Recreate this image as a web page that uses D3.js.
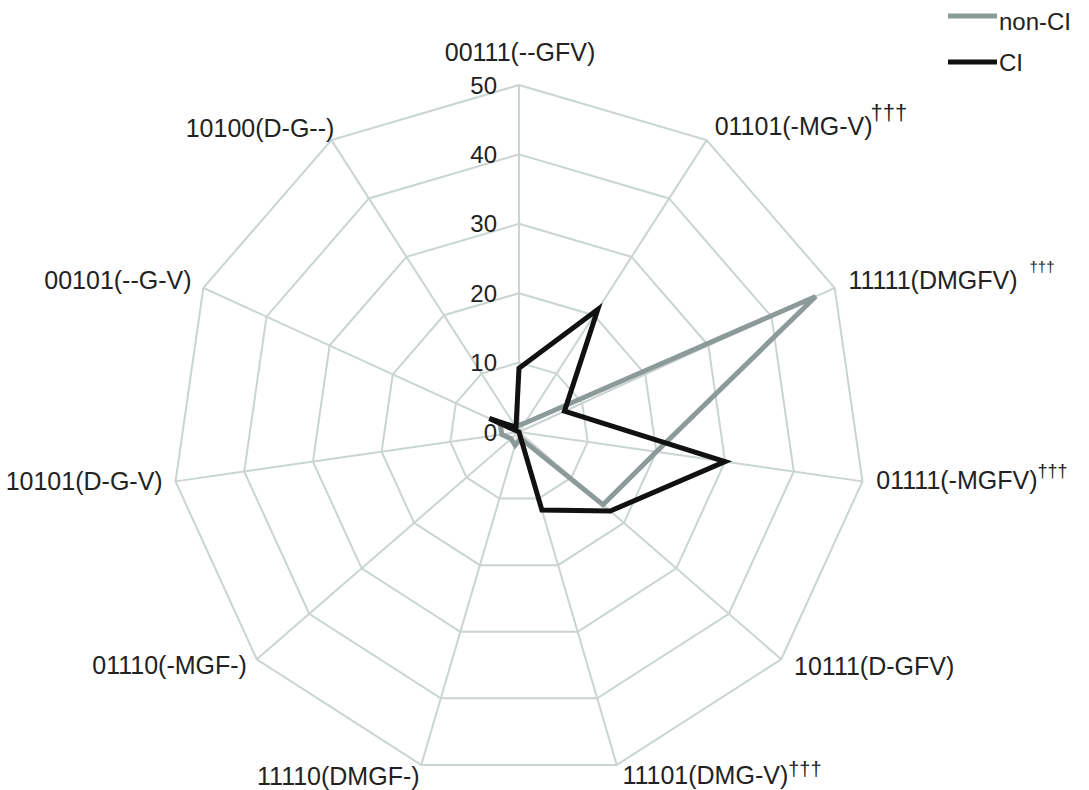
<!DOCTYPE html>
<html><head><meta charset="utf-8">
<script src="https://cdn.jsdelivr.net/npm/d3@7"></script>
<style>
html,body{margin:0;padding:0;background:#fff;}
svg{display:block;font-family:"Liberation Sans",Arial,Helvetica,sans-serif;}
</style></head>
<body>
<svg id="chart" width="1089" height="790"></svg>
<script>
const categories = ["00111(--GFV)", "01101(-MG-V)", "11111(DMGFV)", "01111(-MGFV)", "10111(D-GFV)", "11101(DMG-V)", "11110(DMGF-)", "01110(-MGF-)", "10101(D-G-V)", "00101(--G-V)", "10100(D-G--)"];
const marks = ["", "†††", "†††", "†††", "", "†††", "", "", "", "", ""];
const nonCI = [1, 1.5, 47, 20, 16, 1, 2, 1.5, 2.5, 3, 1];
const CI = [9.2, 21, 7.2, 30, 17.4, 11.7, 0, 0, 0, 4.7, 0.8];
const tickValues = [0, 10, 20, 30, 40, 50];
const seriesNames = ["non-CI", "CI"];
const seriesColors = ["#8c9a9a", "#111111"];

// label style tweaks (position offsets and superscript styling)
const labelDx = [0, 1, 2, 1, 3, 2, 2, 0, 0, 0, 10];
const labelDy = [0, -3, -2, -3, -2, -2, -1, -3, -2, -2, -1];
const supSize = [0, 22, 15, 18, 0, 20, 0, 0, 0, 0, 0];
const supShift = [0, 14, 14, 9, 0, 6, 0, 0, 0, 0, 0];
const supGap = [0, -2, 12, 0, 0, 0, 0, 0, 0, 0, 0];

const svg = d3.select("#chart");
const cx = 519, cy = 432, R = 347;
const n = categories.length;
const r = d3.scaleLinear().domain([0, 50]).range([0, R]);
const ang = d3.scaleLinear().domain([0, n]).range([0, 2 * Math.PI]);
const pt = (i, v) => [cx + r(v) * Math.sin(ang(i)), cy - r(v) * Math.cos(ang(i))];

const g = svg.append("g");
const gridColor = "#cad4d1";
// rings
tickValues.filter(t => t > 0).forEach(t => {
  g.append("path")
    .attr("d", d3.line()(d3.range(n).map(i => pt(i, t))) + "Z")
    .attr("fill", "none").attr("stroke", gridColor).attr("stroke-width", 2);
});
// spokes
d3.range(n).forEach(i => {
  const p = pt(i, 50);
  g.append("line").attr("x1", cx).attr("y1", cy).attr("x2", p[0]).attr("y2", p[1])
    .attr("stroke", gridColor).attr("stroke-width", 2);
});

// series
const line = d3.line().curve(d3.curveLinearClosed);
[nonCI, CI].forEach((s, k) => {
  g.append("path")
    .attr("d", line(s.map((v, i) => pt(i, v))))
    .attr("fill", "none").attr("stroke", seriesColors[k]).attr("stroke-width", 5)
    .attr("stroke-linejoin", "miter");
});

// tick labels
tickValues.forEach(t => {
  svg.append("text").attr("x", cx - 22).attr("y", cy - r(t))
    .attr("text-anchor", "end").attr("dominant-baseline", "central")
    .attr("font-size", 24).attr("fill", "#222").text(t);
});

// category labels
categories.forEach((c, i) => {
  const a = ang(i);
  const s = Math.sin(a);
  let x, y, anchor;
  if (i === 0) {
    x = cx + 1; y = cy - R - 33; anchor = "middle";
  } else {
    const L = R + 13;
    x = cx + L * s + labelDx[i]; y = cy - L * Math.cos(a) + labelDy[i];
    anchor = s > 0 ? "start" : "end";
  }
  const t = svg.append("text").attr("x", x).attr("y", y)
    .attr("text-anchor", anchor).attr("dominant-baseline", "central")
    .attr("font-size", 25).attr("fill", "#222");
  t.append("tspan").text(c);
  if (marks[i]) {
    t.append("tspan").attr("dx", supGap[i]).attr("dy", -supShift[i])
      .attr("font-size", supSize[i] || 20).text(marks[i]);
  }
});

// legend
const legY = [16, 62];
seriesNames.forEach((nm, k) => {
  svg.append("line").attr("x1", 948).attr("x2", 997).attr("y1", legY[k]).attr("y2", legY[k])
    .attr("stroke", seriesColors[k]).attr("stroke-width", 5);
  svg.append("text").attr("x", 999).attr("y", legY[k] + (k === 0 ? 5 : 0))
    .attr("dominant-baseline", "central").attr("font-size", 24).attr("fill", "#222").text(nm);
});
</script>
</body></html>
